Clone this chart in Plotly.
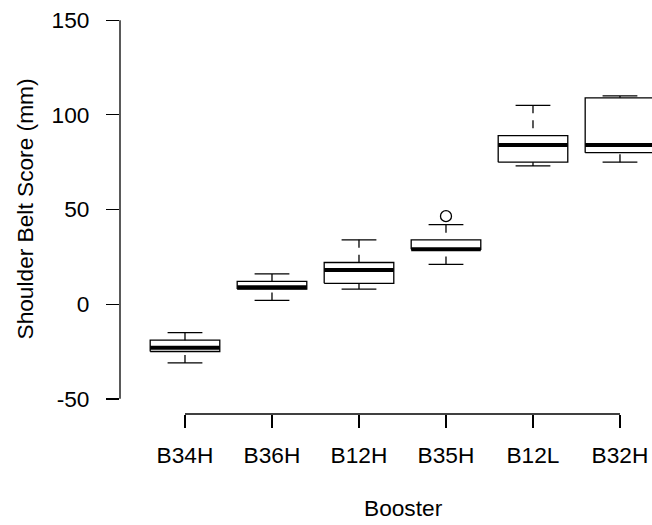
import plotly.graph_objects as go

# ---- data ----
boosters = ["B34H", "B36H", "B12H", "B35H", "B12L", "B32H"]
whisker_low = [-31, 2, 8, 21, 73, 75]
q1 = [-25, 8, 11, 29, 75, 80]
median = [-23, 9, 18, 29, 84, 84]
q3 = [-19, 12, 22, 34, 89, 109]
whisker_high = [-15, 16, 34, 42, 105, 110]
outlier_group = ["B35H"]
outlier_value = [46.5]
y_ticks = [-50, 0, 50, 100, 150]
y_tick_labels = ["-50", "0", "50", "100", "150"]

BOX_W = 0.8
CAP_W = 0.4
FONT = "Liberation Sans, Arial, sans-serif"
FS = 22.7

pos = {b: i + 1 for i, b in enumerate(boosters)}

box_x, box_y = [], []
wh_x, wh_y = [], []
cap_x, cap_y = [], []
med_x, med_y = [], []
for b, lo, a, m, c, hi in zip(boosters, whisker_low, q1, median, q3, whisker_high):
    p = pos[b]
    h = BOX_W / 2
    box_x += [p - h, p + h, p + h, p - h, p - h, None]
    box_y += [a, a, c, c, a, None]
    wh_x += [p, p, None, p, p, None]
    wh_y += [hi, c, None, lo, a, None]
    k = CAP_W / 2
    cap_x += [p - k, p + k, None, p - k, p + k, None]
    cap_y += [hi, hi, None, lo, lo, None]
    med_x += [p - h, p + h, None]
    med_y += [m, m, None]

fig = go.Figure()
fig.add_trace(go.Scatter(x=wh_x, y=wh_y, mode="lines",
                         line=dict(color="black", width=1.3, dash="8px,7px"),
                         hoverinfo="skip", showlegend=False))
fig.add_trace(go.Scatter(x=cap_x, y=cap_y, mode="lines",
                         line=dict(color="black", width=1.3),
                         hoverinfo="skip", showlegend=False))
fig.add_trace(go.Scatter(x=box_x, y=box_y, mode="lines",
                         line=dict(color="black", width=1.3),
                         hoverinfo="skip", showlegend=False))
fig.add_trace(go.Scatter(x=med_x, y=med_y, mode="lines",
                         line=dict(color="black", width=4),
                         hoverinfo="skip", showlegend=False))
fig.add_trace(go.Scatter(x=[pos[g] for g in outlier_group], y=outlier_value,
                         mode="markers",
                         marker=dict(symbol="circle-open", size=11,
                                     color="black", line=dict(width=1.3)),
                         hoverinfo="skip", showlegend=False))

x_first, x_last = 1, len(boosters)
shapes = [
    dict(type="line", xref="paper", yref="y", x0=0, x1=0,
         y0=y_ticks[0], y1=y_ticks[-1], line=dict(color="black", width=1.3)),
    dict(type="line", xref="x", yref="paper", x0=x_first, x1=x_last,
         y0=0, y1=0, line=dict(color="black", width=1.3)),
]

plot_top, plot_bottom, plot_left = 5, 414, 120
plot_h = plot_bottom - plot_top
plot_w = 652 - plot_left

annotations = [
    dict(text="Shoulder Belt Score (mm)", xref="paper", yref="paper",
         x=-(plot_left - 24) / plot_w, y=0.5, textangle=-90,
         xanchor="center", yanchor="middle", showarrow=False,
         font=dict(family=FONT, size=FS, color="black")),
    dict(text="Booster", xref="paper", yref="paper",
         x=(403 - plot_left) / plot_w, y=-(508 - plot_bottom) / plot_h,
         xanchor="center", yanchor="middle", showarrow=False,
         font=dict(family=FONT, size=FS, color="black")),
]

fig.update_layout(
    width=652, height=525,
    margin=dict(l=plot_left, r=0, t=plot_top, b=525 - plot_bottom,
                autoexpand=False),
    paper_bgcolor="white", plot_bgcolor="white",
    font=dict(family=FONT, size=FS, color="black"),
    shapes=shapes, annotations=annotations,
    xaxis=dict(range=[0.253, 6.368], tickvals=list(pos.values()),
               ticktext=boosters, ticks="outside", ticklen=13,
               tickwidth=1.3, tickcolor="black", showgrid=False,
               zeroline=False, showline=False, ticklabelstandoff=8,
               automargin=False,
               tickfont=dict(family=FONT, size=FS, color="black")),
    yaxis=dict(range=[-58, 158], tickvals=y_ticks, ticktext=y_tick_labels,
               ticks="outside", ticklen=13, tickwidth=1.3,
               tickcolor="black", showgrid=False, zeroline=False,
               showline=False, ticklabelstandoff=12, automargin=False,
               tickfont=dict(family=FONT, size=FS, color="black")),
)

fig.write_html(
    "out.html",
    config={"displayModeBar": False, "staticPlot": True},
    post_script="document.body.style.margin='0';document.body.style.overflow='hidden';",
)
